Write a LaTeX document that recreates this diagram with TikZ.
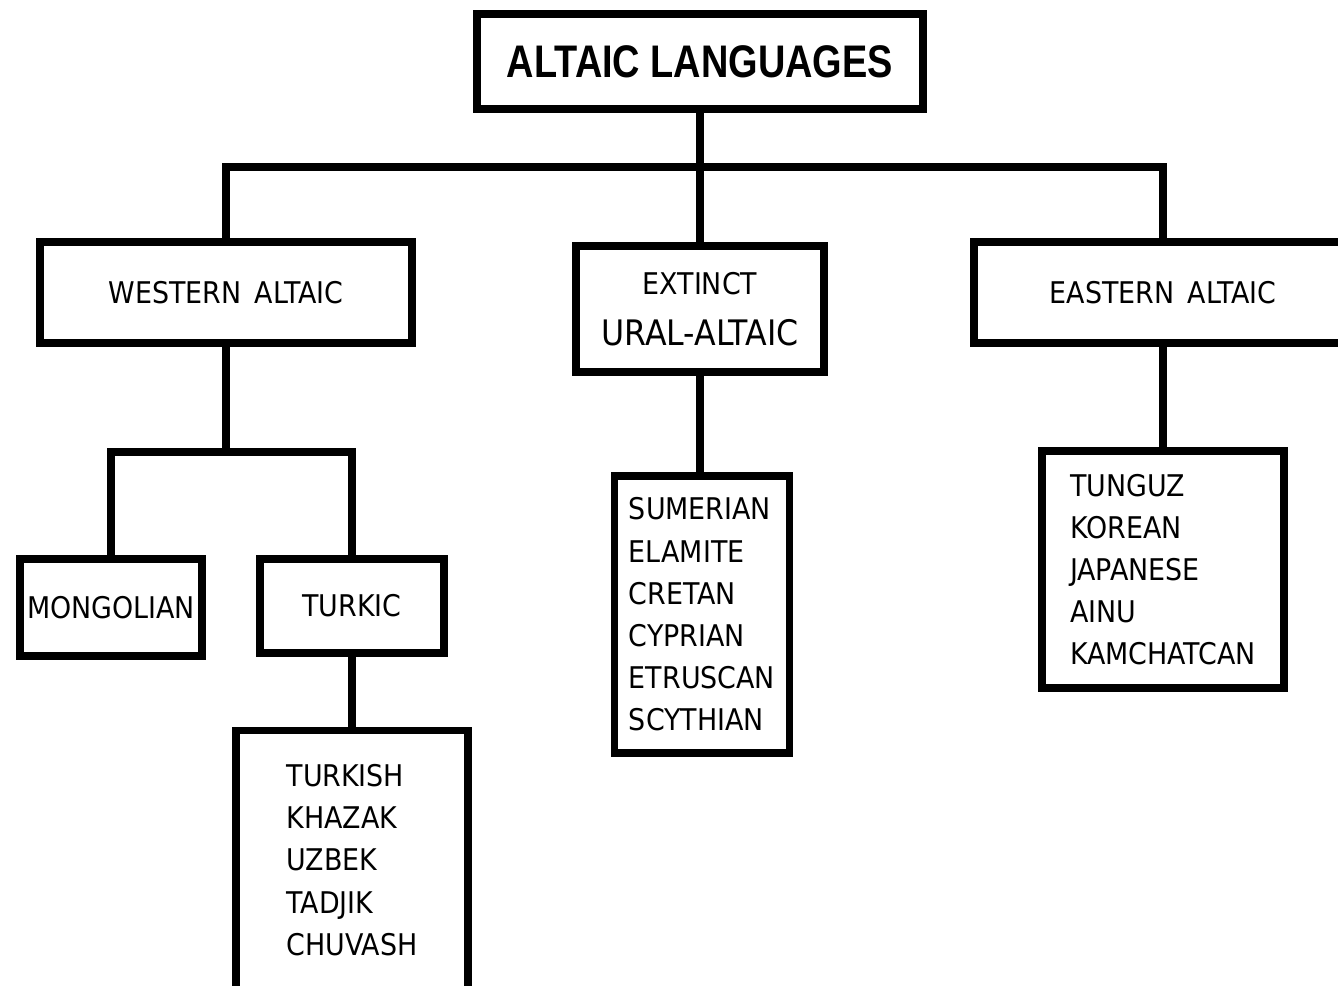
\documentclass[tikz,border=0pt]{standalone}
\usepackage{fontspec}
\setmainfont{DejaVu Sans Condensed}
\newfontfamily\titlefont[FakeStretch=0.83]{Liberation Sans}
\usepackage{tikz}
\usetikzlibrary{positioning}

\begin{document}
\begin{tikzpicture}[
  x=0.02cm, y=-0.02cm,
  lbox/.style={draw, line width=4.4pt, inner sep=2pt, align=center, font=\fontsize{17}{24}\selectfont},
  llist/.style={lbox, align=left},
  link/.style={line width=4.4pt}
]
  \useasboundingbox (0,0) rectangle (1338,986);
  \node[lbox, minimum width=8.92cm, minimum height=1.9cm, font=\titlefont\bfseries\fontsize{26}{30}\selectfont] (altaic) at (700,61.5) {ALTAIC LANGUAGES};
  \node[lbox, minimum width=7.44cm, minimum height=2.02cm] (west) at (226,292.5) {WESTERN\hspace{0.45em}ALTAIC};
  \node[lbox, minimum width=4.96cm, minimum height=2.52cm] (extinct) at (700,309) {EXTINCT\\[5pt]{\fontsize{20}{24}\selectfont URAL-ALTAIC}};
  \node[lbox, minimum width=7.56cm, minimum height=2.02cm] (east) at (1163,292.5) {EASTERN\hspace{0.45em}ALTAIC};
  \node[lbox, minimum width=3.64cm, minimum height=1.94cm] (mongol) at (111,607.5) {MONGOLIAN};
  \node[lbox, minimum width=3.68cm, minimum height=1.88cm] (turkic) at (352,606) {TURKIC};
  % lists of member languages
  \node[llist, minimum width=4.64cm, minimum height=5.18cm] (turklist) at (352,860) {TURKISH\\KHAZAK\\UZBEK\\TADJIK\\CHUVASH};
  \node[llist, minimum width=3.5cm, minimum height=5.54cm] (extlist) at (702,614.5) {SUMERIAN\\ELAMITE\\CRETAN\\CYPRIAN\\ETRUSCAN\\SCYTHIAN};
  \node[llist, minimum width=4.84cm, minimum height=4.74cm] (eastlist) at (1163,569.5) {TUNGUZ\\KOREAN\\JAPANESE\\AINU\\KAMCHATCAN};

  \coordinate (bus) at (700,167);
  \coordinate (subbus) at (226,452);
  \draw[link] (altaic.south) -- (extinct.north);
  \draw[link] (west.north) |- (bus) -| (east.north);
  \draw[link] (west.south) -- (subbus);
  \draw[link] (mongol.north) |- (subbus) -| (turkic.north);
  \draw[link] (turkic.south) -- (turklist.north);
  \draw[link] (extinct.south) -- (extinct.south |- extlist.north);
  \draw[link] (east.south) -- (eastlist.north);
\end{tikzpicture}
\end{document}
